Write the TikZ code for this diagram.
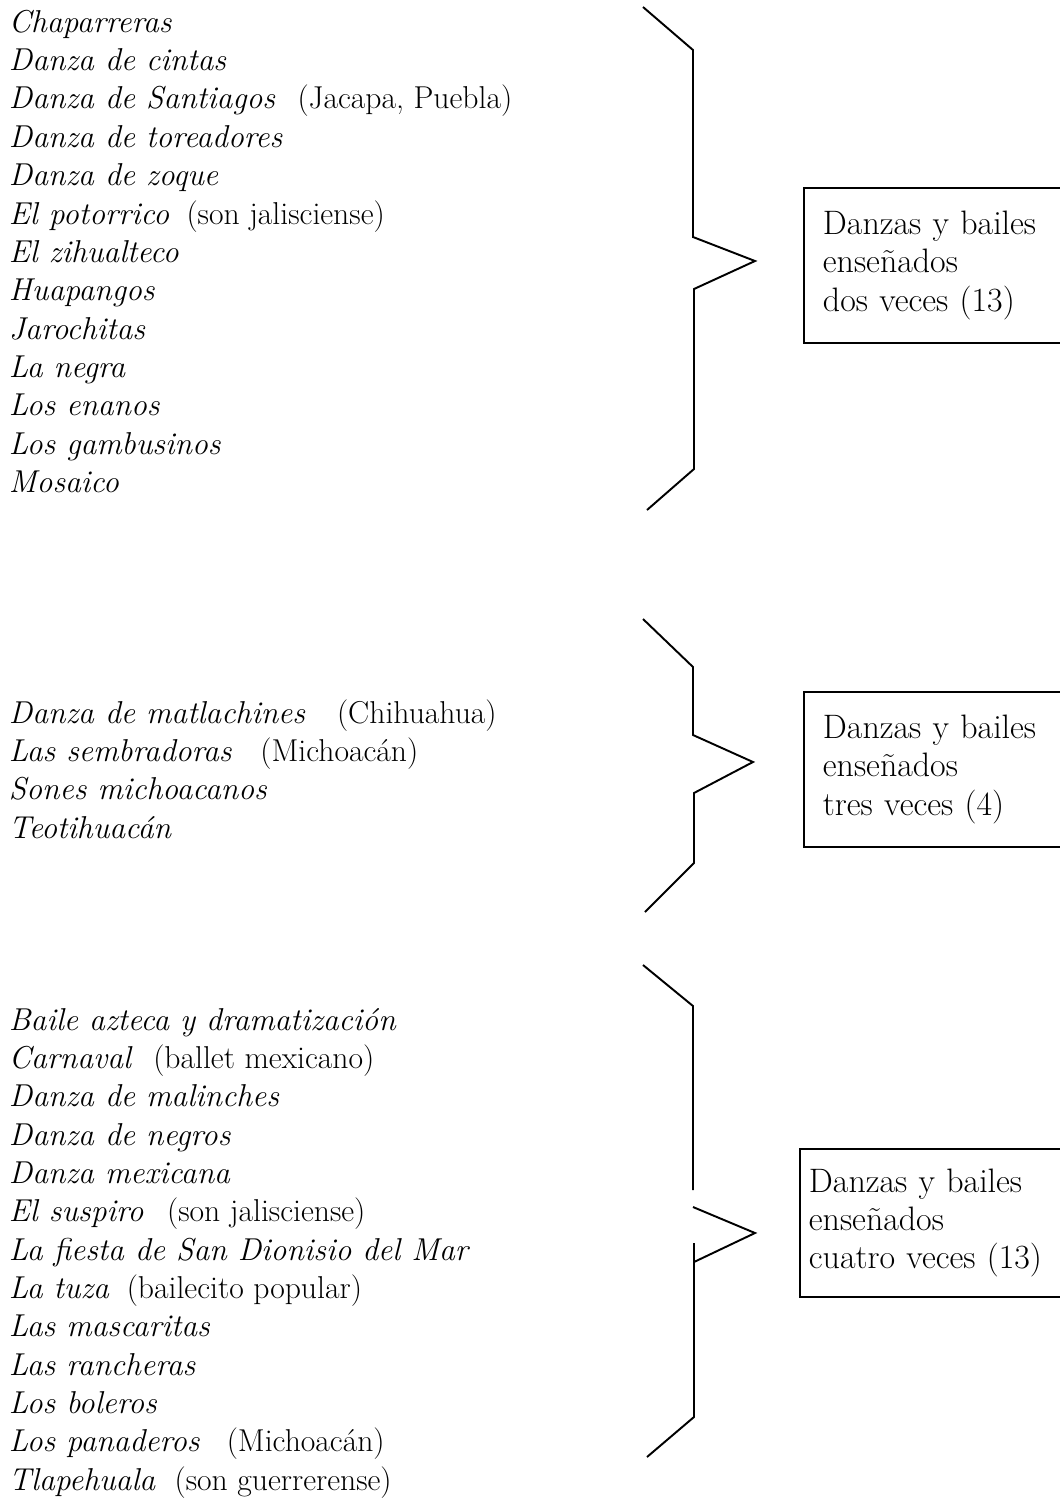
\documentclass[tikz,border=0pt]{standalone}
\usepackage{tikz}
\usetikzlibrary{positioning}

\begin{document}
\begin{tikzpicture}[x=0.02cm, y=-0.02cm, line width=1.1pt,
  fila/.style={anchor=base west, inner sep=0pt, font=\fontsize{18}{21.7}\selectfont\itshape},
  caja/.style={draw, anchor=north west, align=left, minimum width=5.6cm, text width=4.84cm,
    inner xsep=0.38cm, font=\fontsize{19.3}{21.7}\selectfont},
  llave/.style={line join=miter}]

\clip (0,0) rectangle (1060,1499);

% dos veces
\node[fila] (a1) at (8,32.3) {Chaparreras};
\node[below=0.767cm of a1.base west, fila] (a2) {Danza de cintas};
\node[below=0.767cm of a2.base west, fila] (a3) {Danza de Santiagos\hspace{0.7em}\textup{(Jacapa, Puebla)}};
\node[below=0.767cm of a3.base west, fila] (a4) {Danza de toreadores};
\node[below=0.767cm of a4.base west, fila] (a5) {Danza de zoque};
\node[below=0.767cm of a5.base west, fila] (a6) {El potorrico\hspace{0.55em}\textup{(son jalisciense)}};
\node[below=0.767cm of a6.base west, fila] (a7) {El zihualteco};
\node[below=0.767cm of a7.base west, fila] (a8) {Huapangos};
\node[below=0.767cm of a8.base west, fila] (a9) {Jarochitas};
\node[below=0.767cm of a9.base west, fila] (a10) {La negra};
\node[below=0.767cm of a10.base west, fila] (a11) {Los enanos};
\node[below=0.767cm of a11.base west, fila] (a12) {Los gambusinos};
\node[below=0.767cm of a12.base west, fila] (a13) {Mosaico};

\draw[llave] (643,7) -- (693,50) -- (693,237) -- (755,261) -- (694,289) -- (694,469) -- (647,510);
\node[caja, minimum height=3.1cm] (c1) at (803,187) {Danzas y bailes\\ ense\~nados\\ dos veces (13)};

% tres veces
\node[fila] (b1) at (8,723.3) {Danza de matlachines\hspace{1em}\textup{(Chihuahua)}};
\node[below=0.767cm of b1.base west, fila] (b2) {Las sembradoras\hspace{0.9em}\textup{(Michoac\'an)}};
\node[below=0.767cm of b2.base west, fila] (b3) {Sones michoacanos};
\node[below=0.767cm of b3.base west, fila] (b4) {Teotihuac\'an};

\draw[llave] (643,619) -- (693,667) -- (693,735) -- (753,762) -- (694,793) -- (694,863) -- (645,912);
\node[caja, minimum height=3.1cm] (c2) at (803,691) {Danzas y bailes\\ ense\~nados\\ tres veces (4)};

% cuatro veces
\node[fila] (d1) at (8,1030) {Baile azteca y dramatizaci\'on};
\node[below=0.767cm of d1.base west, fila] (d2) {Carnaval\hspace{0.65em}\textup{(ballet mexicano)}};
\node[below=0.767cm of d2.base west, fila] (d3) {Danza de malinches};
\node[below=0.767cm of d3.base west, fila] (d4) {Danza de negros};
\node[below=0.767cm of d4.base west, fila] (d5) {Danza mexicana};
\node[below=0.767cm of d5.base west, fila] (d6) {El suspiro\hspace{0.75em}\textup{(son jalisciense)}};
\node[below=0.767cm of d6.base west, fila] (d7) {La fiesta de San Dionisio del Mar};
\node[below=0.767cm of d7.base west, fila] (d8) {La tuza\hspace{0.55em}\textup{(bailecito popular)}};
\node[below=0.767cm of d8.base west, fila] (d9) {Las mascaritas};
\node[below=0.767cm of d9.base west, fila] (d10) {Las rancheras};
\node[below=0.767cm of d10.base west, fila] (d11) {Los boleros};
\node[below=0.767cm of d11.base west, fila] (d12) {Los panaderos\hspace{0.85em}\textup{(Michoac\'an)}};
\node[below=0.767cm of d12.base west, fila] (d13) {Tlapehuala\hspace{0.6em}\textup{(son guerrerense)}};

\draw[llave] (643,965) -- (693,1006) -- (693,1190);
\draw[llave] (693,1207) -- (755,1233) -- (694,1262);
\draw[llave] (694,1243) -- (694,1417) -- (647,1457);
\node[caja, minimum height=2.96cm, inner xsep=0.18cm, text width=5.24cm] (c3) at (799,1148) {Danzas y bailes\\ ense\~nados\\ cuatro veces (13)};

\end{tikzpicture}
\end{document}
